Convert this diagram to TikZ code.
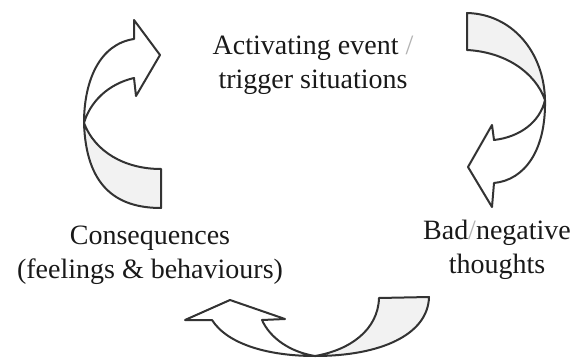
\documentclass[tikz,border=0pt]{standalone}
\usepackage{fontspec}
\setmainfont{Liberation Serif}
\begin{document}
\begin{tikzpicture}[x=1pt,y=-1pt,
  bendarrow/.style={draw=black!80,line width=2pt,line join=round,fill=white},
  backarrow/.style={bendarrow,fill=black!5},
  lbl/.style={align=center,inner sep=0pt,anchor=base,text=black!90,font=\fontsize{28}{34}\selectfont}]
\useasboundingbox (0,0) rectangle (575,358);

\node[lbl] (trigger) at (313,89) {Activating event {\color{black!30}/}\\trigger situations};
\node[lbl] (thoughts) at (497,273) {Bad{\color{black!30}/}negative\\thoughts};
\node[lbl] (conseq) at (150,278) {Consequences\\(feelings \& behaviours)};

% left arrow, up to the trigger
\draw[backarrow] (84,123) .. controls (86,185) and (115,208) .. (161,208) -- (161,169)
  .. controls (125,169) and (95,152) .. (84,123) -- cycle;
\draw[bendarrow] (84,123) .. controls (84,80) and (100,44) .. (134,39) -- (134,20) -- (160,55)
  -- (136,96) -- (134,78) .. controls (108,84) and (90,102) .. (84,123) -- cycle;

% right arrow, down to the thoughts
\draw[backarrow] (467,13) .. controls (512,14) and (544,52) .. (545,100)
  .. controls (535,72) and (505,52) .. (467,50) -- cycle;
\draw[bendarrow] (545,100) .. controls (546,150) and (525,180) .. (494,183) -- (492,207)
  -- (468,167) -- (492,125) -- (494,140) .. controls (520,137) and (540,122) .. (545,100) -- cycle;

% bottom arrow, back to the consequences
\draw[backarrow] (315,356) .. controls (380,356) and (428,335) .. (429,297) -- (379,298)
  .. controls (378,330) and (350,350) .. (315,356) -- cycle;
\draw[bendarrow] (315,356) .. controls (270,356) and (228,345) .. (212,320) -- (185,320)
  -- (230,300) -- (285,319) -- (262,320) .. controls (270,338) and (290,352) .. (315,356) -- cycle;
\end{tikzpicture}
\end{document}
